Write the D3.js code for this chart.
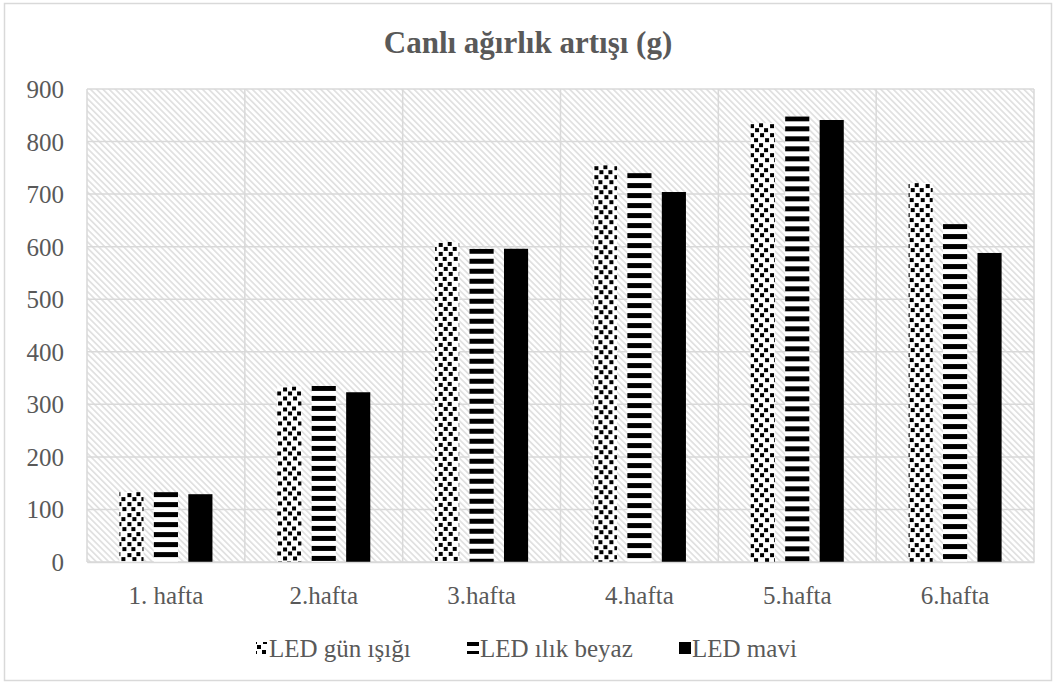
<!DOCTYPE html>
<html lang="tr">
<head>
<meta charset="utf-8">
<title>Canlı ağırlık artışı (g)</title>
<script src="https://d3js.org/d3.v7.min.js"></script>
<style>
  body { margin: 0; background: #fff; }
  svg text { font-family: "Liberation Serif", "Times New Roman", serif !important; }
</style>
</head>
<body>
<div id="chart"></div>
<script>
"use strict"

// data
const categories = ["1. hafta", "2.hafta", "3.hafta", "4.hafta", "5.hafta", "6.hafta"];
const seriesNames = ["LED gün ışığı", "LED ılık beyaz", "LED mavi"];
const ledGunIsigi = [133, 334, 609, 755, 835, 721];
const ledIlikBeyaz = [133, 335, 596, 740, 848, 643];
const ledMavi = [129, 323, 596, 704, 841, 588];
const yTicks = [0, 100, 200, 300, 400, 500, 600, 700, 800, 900];

const seriesValues = [ledGunIsigi, ledIlikBeyaz, ledMavi];

const W = 1057, H = 684;
const plot = {left: 87, right: 1034, top: 89, bottom: 562};
const grid = "#d9d9d9";
const ink = "#595959";

const svg = d3.select("#chart").append("svg")
  .attr("width", W).attr("height", H);

// scales
const x0 = d3.scaleBand().domain(categories).range([plot.left, plot.right]);
const x1 = d3.scaleBand().domain(d3.range(seriesNames.length))
  .range([0, x0.bandwidth()]).paddingInner(0.3).paddingOuter(0.94);
const y = d3.scaleLinear().domain([0, 900]).range([plot.bottom, plot.top]);

// patterns
const defs = svg.append("defs");

const hatch = defs.append("pattern")
  .attr("id", "hatch").attr("patternUnits", "userSpaceOnUse")
  .attr("width", 4.4).attr("height", 10)
  .attr("patternTransform", "rotate(-45)");
hatch.append("rect").attr("width", 4.4).attr("height", 10).attr("fill", "#fff");
hatch.append("rect").attr("width", 1.7).attr("height", 10).attr("fill", "#e0e0e0");

function dotPattern(id, ox, oy) {
  const p = defs.append("pattern")
    .attr("id", id).attr("patternUnits", "userSpaceOnUse")
    .attr("x", ox).attr("y", oy).attr("width", 20).attr("height", 20);
  p.append("rect").attr("width", 20).attr("height", 20).attr("fill", "#fff");
  [[1, 1], [10, 0], [6, 5], [15, 5], [1, 10], [11, 10], [5, 15], [16, 15]].forEach(d => {
    p.append("rect").attr("x", d[0]).attr("y", d[1]).attr("width", 4).attr("height", 4).attr("fill", "#000");
  });
}
function stripePattern(id, oy) {
  const p = defs.append("pattern")
    .attr("id", id).attr("patternUnits", "userSpaceOnUse")
    .attr("y", oy).attr("width", 10).attr("height", 10);
  p.append("rect").attr("width", 10).attr("height", 10).attr("fill", "#fff");
  p.append("rect").attr("width", 10).attr("height", 5).attr("fill", "#000");
}
// one tile offset per bar so each bar starts with ink at its top
categories.forEach((c, i) => {
  dotPattern("dots" + i, x0(c) + x1(0), y(ledGunIsigi[i]));
  stripePattern("stripes" + i, y(ledIlikBeyaz[i]));
});
dotPattern("dotsLeg", 256, 642);
stripePattern("stripesLeg", 643);

function barFill(si, ci) {
  if (si == 0) return "url(#dots" + ci + ")";
  if (si == 1) return "url(#stripes" + ci + ")";
  return "#000";
}
const legendFills = ["url(#dotsLeg)", "url(#stripesLeg)", "#000"];

// chart border
svg.append("rect")
  .attr("x", 4.5).attr("y", 3.5).attr("width", 1047).attr("height", 677)
  .attr("fill", "#fff").attr("stroke", grid).attr("stroke-width", 1.5);

// plot background
svg.append("rect")
  .attr("x", plot.left).attr("y", plot.top)
  .attr("width", plot.right - plot.left).attr("height", plot.bottom - plot.top)
  .attr("fill", "url(#hatch)");

// gridlines
svg.append("g").selectAll("line").data(yTicks).join("line")
  .attr("x1", plot.left).attr("x2", plot.right)
  .attr("y1", d => y(d)).attr("y2", d => y(d))
  .attr("stroke", grid).attr("stroke-width", 1.5);

svg.append("g").selectAll("line").data(categories.concat([null])).join("line")
  .attr("x1", (d, i) => plot.left + i * x0.step()).attr("x2", (d, i) => plot.left + i * x0.step())
  .attr("y1", plot.top).attr("y2", plot.bottom)
  .attr("stroke", grid).attr("stroke-width", 1.5);

// bars
const groups = svg.append("g").selectAll("g").data(categories).join("g")
  .attr("transform", d => "translate(" + x0(d) + ",0)");

groups.selectAll("rect")
  .data((d, ci) => seriesValues.map((vals, si) => ({si: si, ci: ci, v: vals[ci]})))
  .join("rect")
  .attr("x", d => x1(d.si))
  .attr("width", x1.bandwidth())
  .attr("y", d => y(d.v))
  .attr("height", d => y(0) - y(d.v))
  .attr("fill", d => barFill(d.si, d.ci));

// axes
const yAxis = svg.append("g")
  .attr("transform", "translate(" + (plot.left - 23) + ",0)")
  .call(d3.axisLeft(y).tickValues(yTicks).tickSize(0).tickPadding(0));
yAxis.select(".domain").remove();
yAxis.selectAll("text").attr("fill", ink).style("font-size", "25px").attr("dy", "0.34em");

const xAxis = svg.append("g")
  .attr("transform", "translate(0," + plot.bottom + ")")
  .call(d3.axisBottom(x0).tickSize(0).tickPadding(24));
xAxis.select(".domain").attr("stroke", grid).attr("stroke-width", 1.5);
xAxis.selectAll("text").attr("fill", ink).style("font-size", "25px");

// title
svg.append("text")
  .attr("x", 528).attr("y", 53)
  .attr("text-anchor", "middle")
  .attr("fill", ink)
  .style("font-size", "31px").style("font-weight", "bold")
  .text("Canlı ağırlık artışı (g)");

// legend
const legendX = [256, 467, 679];
const legend = svg.append("g").selectAll("g").data(seriesNames).join("g")
  .attr("transform", (d, i) => "translate(" + legendX[i] + ",648)");
legend.append("rect")
  .attr("x", 0).attr("y", -6).attr("width", 12).attr("height", 12)
  .attr("fill", (d, i) => legendFills[i]);
legend.append("text")
  .attr("x", 13).attr("dy", "0.34em")
  .attr("fill", ink)
  .style("font-size", "25px")
  .text(d => d);
</script>
</body>
</html>
